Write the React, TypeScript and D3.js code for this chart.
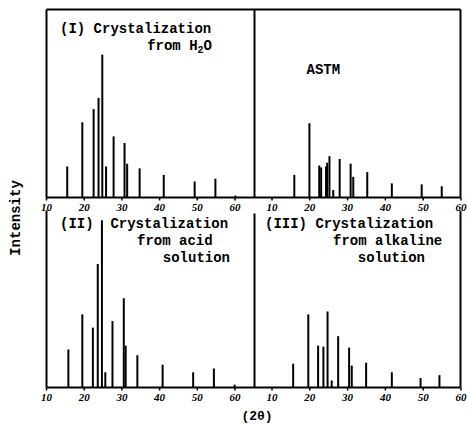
import React from "react";
import * as d3 from "d3";

// 2θ positions and relative intensities (percent of panel height)
const theta1 = [15.5, 19.5, 22.5, 23.8, 24.8, 25.8, 27.8, 30.7, 31.4, 34.7, 41.1, 49.3, 54.8, 60.1];
const inten1 = [16.5, 40, 47, 53, 76, 16.5, 32.5, 29, 18, 15.5, 12, 8.5, 10, 1];

const thetaAstm = [15.9, 19.9, 22.5, 23.0, 24.3, 24.6, 25.2, 26.2, 27.9, 30.8, 31.5, 35.2, 41.7, 49.6, 54.9];
const intenAstm = [12, 39.5, 17, 16, 16.5, 18.5, 22, 4, 20.5, 18, 11, 13.5, 7.5, 7, 6];

const theta2 = [15.8, 19.5, 22.3, 23.6, 24.7, 25.6, 27.5, 30.5, 31.0, 34.1, 40.8, 48.9, 54.4, 59.9];
const inten2 = [20, 38.5, 31.5, 65, 88, 8, 35, 47, 22, 17, 12, 8, 10, 1.5];

const theta3 = [15.6, 19.6, 22.2, 23.6, 24.7, 25.8, 27.5, 30.4, 31.1, 34.9, 41.7, 49.3, 54.3];
const inten3 = [12.5, 38.5, 22, 21.5, 40, 3.7, 27, 21, 11.5, 13, 8, 5, 6.5];

const tickValues = [10, 20, 30, 40, 50, 60];
const tickLabelsLeft = ["10", "20", "30", "40", "50", "60"];
const tickLabelsRight = ["10", "20", "30", "40", "50", "60"];

const W = 467;
const H = 429;

const xLeft = d3.scaleLinear().domain([10, 60]).range([46.5, 235]);
const xRight = d3.scaleLinear().domain([10, 60]).range([272, 461]);
const yUpper = d3.scaleLinear().domain([0, 100]).range([197.5, 9.5]);
const yLower = d3.scaleLinear().domain([0, 100]).range([387.5, 197.5]);

const mono = "'Liberation Mono', 'DejaVu Sans Mono', monospace";
const tickFont = "'Liberation Serif', 'DejaVu Serif', serif";

function Sticks({ thetas, ints, x, y }: { thetas: number[]; ints: number[]; x: d3.ScaleLinear<number, number>; y: d3.ScaleLinear<number, number> }) {
  return (
    <g stroke="#000" strokeWidth={2}>
      {thetas.map((t, i) => (
        <line key={i} x1={x(t)} x2={x(t)} y1={y(0)} y2={y(ints[i])} />
      ))}
    </g>
  );
}

function Ticks({ x, y0, labels }: { x: d3.ScaleLinear<number, number>; y0: number; labels: string[] }) {
  return (
    <g>
      {tickValues.map((v, i) => (
        <g key={i}>
          <line x1={x(v)} x2={x(v)} y1={y0} y2={y0 + 3} stroke="#000" strokeWidth={1.5} />
          <text
            x={x(v)}
            y={y0 + 13}
            textAnchor="middle"
            fontFamily={tickFont}
            fontWeight="bold"
            fontStyle="italic"
            fontSize={11}
            fill="#000"
          >
            {labels[i]}
          </text>
        </g>
      ))}
    </g>
  );
}

export default function App() {
  const topY = yUpper(100);
  const midY = yUpper(0);
  const botY = yLower(0);
  const leftX = 46.5;
  const midX = 254.5;
  const rightX = 460.5;
  return (
    <svg
      width={W}
      height={H}
      style={{ position: "absolute", left: 0, top: 0, background: "#fff" }}
    >
      <rect x={0} y={0} width={W} height={H} fill="#fff" />
      {/* frame */}
      <g stroke="#000" strokeWidth={2} fill="none">
        <line x1={leftX} x2={rightX} y1={topY} y2={topY} />
        <line x1={leftX} x2={rightX} y1={midY} y2={midY} />
        <line x1={leftX} x2={rightX} y1={botY} y2={botY} />
        <line x1={leftX} x2={leftX} y1={topY} y2={midY} />
        <line x1={leftX} x2={leftX} y1={midY + 13} y2={botY} />
        <line x1={midX} x2={midX} y1={topY} y2={midY} />
        <line x1={midX} x2={midX} y1={midY + 16} y2={botY} />
        <line x1={rightX} x2={rightX} y1={topY} y2={midY} />
        <line x1={rightX} x2={rightX} y1={midY + 13} y2={botY} />
      </g>

      <Sticks thetas={theta1} ints={inten1} x={xLeft} y={yUpper} />
      <Sticks thetas={thetaAstm} ints={intenAstm} x={xRight} y={yUpper} />
      <Sticks thetas={theta2} ints={inten2} x={xLeft} y={yLower} />
      <Sticks thetas={theta3} ints={inten3} x={xRight} y={yLower} />

      <Ticks x={xLeft} y0={midY} labels={tickLabelsLeft} />
      <Ticks x={xRight} y0={midY} labels={tickLabelsRight} />
      <Ticks x={xLeft} y0={botY} labels={tickLabelsLeft} />
      <Ticks x={xRight} y0={botY} labels={tickLabelsRight} />

      {/* titles */}
      <g fontFamily={mono} fontWeight="bold" fontSize={14} fill="#000">
        <text x={60} y={33} xmlSpace="preserve">(I) Crystalization</text>
        <text x={212} y={49.5} textAnchor="end">
          from H<tspan fontSize={10} dy={3}>2</tspan>
          <tspan dy={-3}>O</tspan>
        </text>
        <text x={306.5} y={74}>ASTM</text>

        <text x={60} y={228} xmlSpace="preserve">(II)  Crystalization</text>
        <text x={137} y={245}>from acid</text>
        <text x={230} y={262} textAnchor="end">solution</text>

        <text x={265} y={228} xmlSpace="preserve">(III) Crystalization</text>
        <text x={333} y={245}>from alkaline</text>
        <text x={425} y={262} textAnchor="end">solution</text>

        <text x={20} y={218} transform="rotate(-90 20 218)" textAnchor="middle">Intensity</text>
        <text x={257} y={420} textAnchor="middle" fontSize={13}>(2θ)</text>
      </g>
    </svg>
  );
}
